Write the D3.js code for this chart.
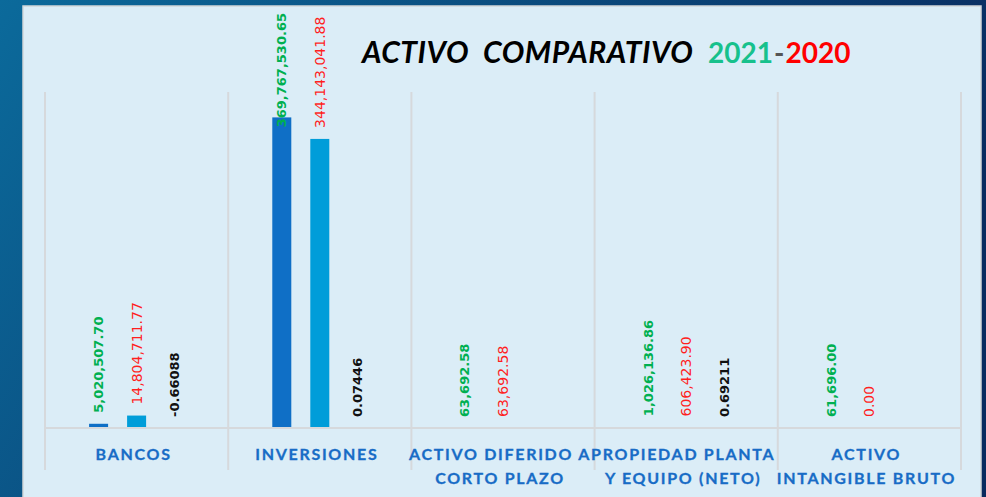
<!DOCTYPE html>
<html><head><meta charset="utf-8">
<script src="https://cdn.jsdelivr.net/npm/d3@7"></script>
<style>html,body{margin:0;padding:0;overflow:hidden;background:#0a4a80}</style>
</head><body><svg id="c" width="986" height="497"></svg>
<script>
// ---- data ----
const categories = [["BANCOS"], ["INVERSIONES"], ["ACTIVO DIFERIDO A", "CORTO PLAZO"], ["PROPIEDAD PLANTA", "Y EQUIPO (NETO)"], ["ACTIVO", "INTANGIBLE BRUTO"]];
const values2021 = [5020507.70, 369767530.65, 63692.58, 1026136.86, 61696.00];
const values2020 = [14804711.77, 344143041.88, 63692.58, 606423.90, 0.00];
const variation = [-0.66088, 0.07446, null, 0.69211, null];
const yDomain = [0, 400000000];
const titleParts = ["ACTIVO  COMPARATIVO ", "2021", "-", "2020"];

// ---- chart ----
const svg = d3.select("#c");
const W = 986, H = 497;
const loc = d3.formatLocale({decimal: ".", thousands: ",", grouping: [3], currency: ["$", ""], minus: "-"});
const defs = svg.append("defs");
const g1 = defs.append("linearGradient").attr("id", "bg").attr("x1", "0").attr("y1", "0").attr("x2", "1").attr("y2", "0.35");
g1.append("stop").attr("offset", "0").attr("stop-color", "#0b6a9b");
g1.append("stop").attr("offset", "1").attr("stop-color", "#0a2a5e");
svg.append("rect").attr("width", W).attr("height", H).attr("fill", "url(#bg)");
svg.append("rect").attr("x", 23).attr("y", 6).attr("width", 958).attr("height", 520)
  .attr("fill", "#dbedf7").attr("stroke", "#d2d6d9").attr("stroke-width", 1.5);

const x = d3.scaleBand().domain(d3.range(categories.length)).range([45, 961]);
const xs = d3.scaleBand().domain([0, 1, 2]).range([0, x.bandwidth()]).paddingInner(0.5).paddingOuter(1.16);
const y = d3.scaleLinear().domain(yDomain).range([428, 92]);

const grid = "#d6d9dc";
// vertical separators
const bounds = d3.range(categories.length).map(i => x(i)).concat([x(categories.length - 1) + x.bandwidth()]);
svg.append("g").selectAll("line").data(bounds).join("line")
  .attr("x1", d => d).attr("x2", d => d).attr("y1", y(yDomain[1])).attr("y2", 470)
  .attr("stroke", grid).attr("stroke-width", 2);

const series = [
  {vals: values2021, color: "#0f6fc6", label: "#00b050", fmt: loc.format(",.2f"), weight: "bold", size: 13},
  {vals: values2020, color: "#009dd9", label: "#ff1f1f", fmt: loc.format(",.2f"), weight: "normal", size: 14},
  {vals: variation, color: "#10cf9b", label: "#111", fmt: loc.format(".5f"), weight: "bold", size: 13}
];

const barG = svg.append("g");
const lblG = svg.append("g");
series.forEach((s, si) => {
  const data = s.vals.map((v, i) => ({v, i})).filter(d => d.v !== null);
  barG.append("g").selectAll("rect").data(data).join("rect")
    .attr("x", d => x(d.i) + xs(si))
    .attr("width", xs.bandwidth())
    .attr("y", d => Math.min(y(d.v), y(0)))
    .attr("height", d => Math.abs(y(d.v) - y(0)))
    .attr("fill", s.color);
  const lbl = lblG.append("g").selectAll("text").data(data).join("text")
    .attr("font-family", "DejaVu Sans")
    .attr("font-size", s.size)
    .attr("font-weight", s.weight)
    .attr("fill", s.label)
    .attr("dominant-baseline", "central")
    .attr("text-anchor", "start")
    .text(d => s.fmt(d.v));
  lbl.each(function (d) {
    const len = this.getComputedTextLength();
    let by = Math.min(y(d.v), y(0)) - 11;
    if (by - len < 13) by = 13 + len;
    const cx = x(d.i) + xs(si) + xs.bandwidth() / 2;
    d3.select(this).attr("transform", `translate(${cx},${by}) rotate(-90)`);
  });
});
// baseline (drawn over bars)
svg.append("line").attr("x1", 45).attr("x2", 961).attr("y1", y(0)).attr("y2", y(0))
  .attr("stroke", grid).attr("stroke-width", 2);

// category labels
const cl = svg.append("g").selectAll("text").data(categories).join("text")
  .attr("font-family", "Lato, 'Open Sans', sans-serif")
  .attr("font-weight", "bold")
  .attr("font-size", 16)
  .attr("letter-spacing", 1.7)
  .attr("fill", "#186cc6")
  .attr("stroke", "#186cc6").attr("stroke-width", 0.3)
  .attr("text-anchor", "middle");
cl.each(function (d, i) {
  d3.select(this).selectAll("tspan").data(d).join("tspan")
    .attr("x", x(i) + x.bandwidth() / 2 - 3)
    .attr("y", (t, j) => 460 + j * 24)
    .text(t => t);
});

// title
const title = svg.append("text").attr("y", 63)
  .attr("font-family", "Lato, sans-serif").attr("font-weight", "bold")
  .attr("xml:space", "preserve").style("white-space", "pre");
const tColors = ["#000000", "#17c18c", "#555555", "#ff0000"];
titleParts.forEach((t, i) => {
  const ts = title.append("tspan").attr("fill", tColors[i])
    .attr("font-size", i === 0 ? 30 : 28)
    .attr("font-style", i === 0 ? "italic" : "normal")
    .attr("letter-spacing", i === 0 ? 0.5 : 0).text(t);
  if (i === 0) ts.attr("x", 362);
  if (i === 1) ts.attr("x", 708);
  if (i === 2) ts.attr("dx", 1);
  if (i === 3) ts.attr("dx", 1);
});
</script></body></html>
